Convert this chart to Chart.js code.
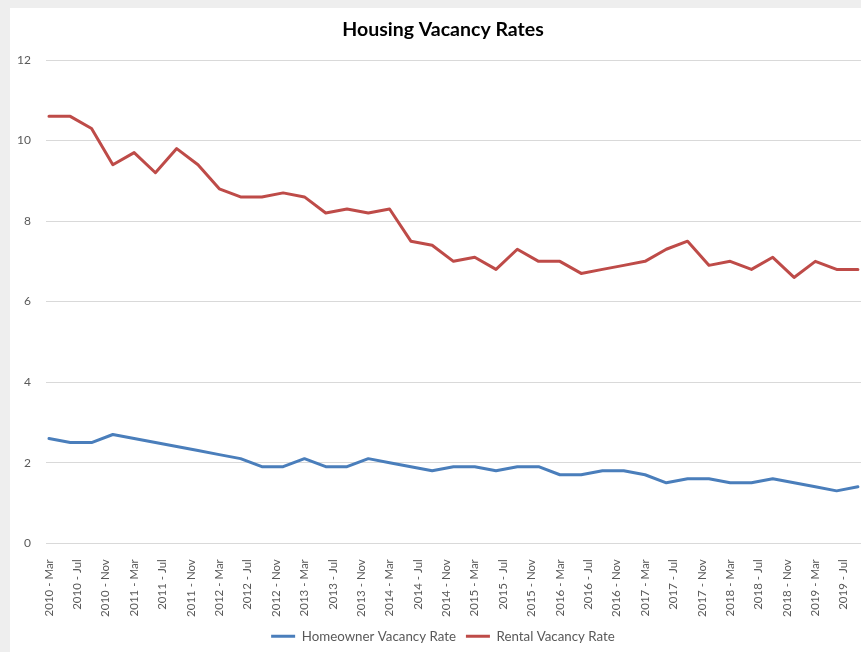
<!DOCTYPE html>
<html>
<head>
<meta charset="utf-8">
<title>Housing Vacancy Rates</title>
<script src="https://cdn.jsdelivr.net/npm/chart.js@4.4.0/dist/chart.umd.min.js"></script>
<style>
  html, body { margin: 0; padding: 0; }
  body { width: 861px; height: 652px; overflow: hidden; background: #eeeeee; position: relative; }
  #wrap { position: absolute; left: 10px; top: 8px; width: 866px; height: 648px; background: #fff; }
  canvas { display: block; }
</style>
</head>
<body>
<div id="wrap"><canvas id="vacancyChart" width="866" height="645"></canvas></div>
<script>
// quarterly readings (year-month of quarter end)
const periods = [
  "2010-03","2010-06","2010-09","2010-12",
  "2011-03","2011-06","2011-09","2011-12",
  "2012-03","2012-06","2012-09","2012-12",
  "2013-03","2013-06","2013-09","2013-12",
  "2014-03","2014-06","2014-09","2014-12",
  "2015-03","2015-06","2015-09","2015-12",
  "2016-03","2016-06","2016-09","2016-12",
  "2017-03","2017-06","2017-09","2017-12",
  "2018-03","2018-06","2018-09","2018-12",
  "2019-03","2019-06","2019-09"
];

const homeownerRate = [
  2.6, 2.5, 2.5, 2.7,
  2.6, 2.5, 2.4, 2.3,
  2.2, 2.1, 1.9, 1.9,
  2.1, 1.9, 1.9, 2.1,
  2.0, 1.9, 1.8, 1.9,
  1.9, 1.8, 1.9, 1.9,
  1.7, 1.7, 1.8, 1.8,
  1.7, 1.5, 1.6, 1.6,
  1.5, 1.5, 1.6, 1.5,
  1.4, 1.3, 1.4
];

const rentalRate = [
  10.6, 10.6, 10.3, 9.4,
  9.7, 9.2, 9.8, 9.4,
  8.8, 8.6, 8.6, 8.7,
  8.6, 8.2, 8.3, 8.2,
  8.3, 7.5, 7.4, 7.0,
  7.1, 6.8, 7.3, 7.0,
  7.0, 6.7, 6.8, 6.9,
  7.0, 7.3, 7.5, 6.9,
  7.0, 6.8, 7.1, 6.6,
  7.0, 6.8, 6.8
];

const tickLabels = [
  "2010 - Mar","2010 - Jul","2010 - Nov",
  "2011 - Mar","2011 - Jul","2011 - Nov",
  "2012 - Mar","2012 - Jul","2012 - Nov",
  "2013 - Mar","2013 - Jul","2013 - Nov",
  "2014 - Mar","2014 - Jul","2014 - Nov",
  "2015 - Mar","2015 - Jul","2015 - Nov",
  "2016 - Mar","2016 - Jul","2016 - Nov",
  "2017 - Mar","2017 - Jul","2017 - Nov",
  "2018 - Mar","2018 - Jul","2018 - Nov",
  "2019 - Mar","2019 - Jul"
];

const monthNames = ["Jan","Feb","Mar","Apr","May","Jun","Jul","Aug","Sep","Oct","Nov","Dec"];

// months counted from Mar 2010
function periodToMonth(p){
  let [y, m] = p.split("-").map(Number);
  return (y - 2010) * 12 + (m - 3);
}
function labelToMonth(l){
  let [y, mon] = l.split(" - ");
  return (Number(y) - 2010) * 12 + monthNames.indexOf(mon) - 2;
}

const textGrey = "#595959";

let chart = new Chart(document.getElementById("vacancyChart"), {
  type: 'line',
  data: {
    datasets: [{
      label: 'Homeowner Vacancy Rate',
      data: periods.map((p, i) => ({ x: periodToMonth(p), y: homeownerRate[i] })),
      borderColor: '#4a7ebb',
      backgroundColor: '#4a7ebb',
      borderWidth: 3,
      tension: 0,
      pointRadius: 0,
      borderJoinStyle: 'round',
      borderCapStyle: 'round',
      fill: false
    }, {
      label: 'Rental Vacancy Rate',
      data: periods.map((p, i) => ({ x: periodToMonth(p), y: rentalRate[i] })),
      borderColor: '#be4b48',
      backgroundColor: '#be4b48',
      borderWidth: 3,
      tension: 0,
      pointRadius: 0,
      borderJoinStyle: 'round',
      borderCapStyle: 'round',
      fill: false
    }]
  },
  options: {
    responsive: false,
    animation: false,
    layout: { padding: 0 },
    plugins: {
      title: {
        display: true,
        text: 'Housing Vacancy Rates',
        color: '#000',
        font: { family: 'Lato', size: 19.5, weight: 'bold' },
        padding: { top: 10, bottom: 18.6 }
      },
      legend: {
        position: 'bottom',
        labels: {
          color: textGrey,
          font: { family: 'Lato', size: 13.3 },
          usePointStyle: true,
          pointStyle: 'line',
          pointStyleWidth: 24,
          padding: 10
        }
      },
      tooltip: { enabled: false }
    },
    scales: {
      x: {
        type: 'linear',
        min: -0.42,
        max: 116.55,
        grid: { display: false },
        border: { display: false },
        afterBuildTicks: scale => {
          scale.ticks = tickLabels.map(l => ({ value: labelToMonth(l) }));
        },
        afterFit: scale => { scale.height = 76.5; },
        ticks: {
          autoSkip: false,
          maxRotation: 90,
          minRotation: 90,
          padding: 8,
          color: textGrey,
          font: { family: 'Lato', size: 11.5 },
          callback: v => tickLabels.find(l => labelToMonth(l) === v) || ''
        }
      },
      y: {
        min: 0,
        max: 12,
        grid: { color: '#d9d9d9', lineWidth: 1, drawTicks: false },
        border: { display: false },
        afterFit: scale => { scale.width = 36; },
        ticks: {
          stepSize: 2,
          padding: 15,
          color: textGrey,
          font: { family: 'Lato', size: 12 }
        }
      }
    }
  }
});
</script>
</body>
</html>
